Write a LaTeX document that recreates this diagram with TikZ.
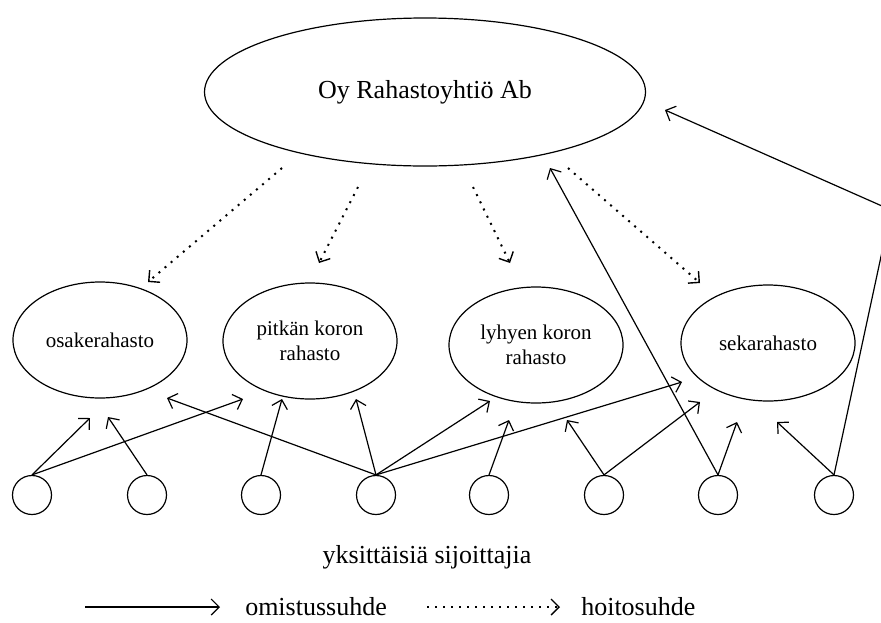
\documentclass[tikz,border=0pt]{standalone}
\usepackage{fontspec}
\setmainfont{Liberation Serif}
\usetikzlibrary{arrows.meta, shapes.geometric}

\begin{document}
\begin{tikzpicture}[
  x=0.5pt, y=-0.5pt, line width=0.6pt,
  firm/.style={draw, ellipse, minimum width=220.5pt, minimum height=74pt, inner sep=0pt, font=\fontsize{13}{15}\selectfont},
  fund/.style={draw, ellipse, minimum width=87pt, minimum height=58pt, inner sep=0pt, align=center, font=\fontsize{10.5}{12.5}\selectfont},
  investor/.style={draw, circle, minimum size=19.5pt, inner sep=0pt},
  own/.style={-{Straight Barb[length=4pt, width=8pt]}},
  care/.style={line width=1pt, dash pattern=on 1pt off 3pt, -{Straight Barb[length=4pt, width=8pt, line width=0.7pt]}},
  caption/.style={font=\fontsize{13}{15}\selectfont},
]
\useasboundingbox (0,0) rectangle (881,622);
\clip (0,0) rectangle (881,622);

\node[firm] (firm) at (425,92) {Oy Rahastoyhtiö Ab};

\node[fund] (osake) at (100,340) {osakerahasto};
\node[fund] (pitka) at (310,341) {pitkän koron\\rahasto};
\node[fund] (lyhyt) at (536,345) {lyhyen koron\\rahasto};
\node[fund] (seka)  at (768,343) {sekarahasto};

\foreach \x [count=\i] in {32,147,261,376,489,604,718,834}
  \node[investor] (c\i) at (\x,495) {};

% hoitosuhde
\coordinate (h1) at (282,168); \coordinate (h1t) at (148,282);
\coordinate (h2) at (358,187); \coordinate (h2t) at (319,263);
\coordinate (h3) at (473,187); \coordinate (h3t) at (510,263);
\coordinate (h4) at (568,168); \coordinate (h4t) at (700,283);
\draw[care] (h1) -- (h1t);
\draw[care] (h2) -- (h2t);
\draw[care] (h3) -- (h3t);
\draw[care] (h4) -- (h4t);

% omistussuhde
\coordinate (t1a) at (90,418);
\coordinate (t1b) at (243,399);
\coordinate (t2)  at (108,417);
\coordinate (t3)  at (282,399);
\coordinate (t4a) at (167,398);
\coordinate (t4b) at (356,399);
\coordinate (t4c) at (490,401);
\coordinate (t4d) at (682,382);
\coordinate (t5)  at (509,420);
\coordinate (t6a) at (567,420);
\coordinate (t6b) at (700,402);
\coordinate (t7a) at (550,168);
\coordinate (t7b) at (737,422);
\coordinate (t8a) at (777,422);
\coordinate (bend) at (891,210);
\coordinate (t8b) at (665,110);

\draw[own] (c1.north) -- (t1a);
\draw[own] (c1.north) -- (t1b);
\draw[own] (c2.north) -- (t2);
\draw[own] (c3.north) -- (t3);
\draw[own] (c4.north) -- (t4a);
\draw[own] (c4.north) -- (t4b);
\draw[own] (c4.north) -- (t4c);
\draw[own] (c4.north) -- (t4d);
\draw[own] (c5.north) -- (t5);
\draw[own] (c6.north) -- (t6a);
\draw[own] (c6.north) -- (t6b);
\draw[own] (c7.north) -- (t7a);
\draw[own] (c7.north) -- (t7b);
\draw[own] (c8.north) -- (t8a);
\draw[own] (c8.north) -- (bend) -- (t8b);

\node[caption] (investors) at (427,557) {yksittäisiä sijoittajia};

% selite
\coordinate (s1) at (85,607);  \coordinate (s2) at (220,607);
\coordinate (d1) at (427,607); \coordinate (d2) at (560,607);
\draw[own] (s1) -- (s2);
\node[caption, anchor=west] (ownlabel) at (238,607) {omistussuhde};
\draw[care] (d1) -- (d2);
\node[caption, anchor=west] (carelabel) at (574,607) {hoitosuhde};
\end{tikzpicture}
\end{document}
